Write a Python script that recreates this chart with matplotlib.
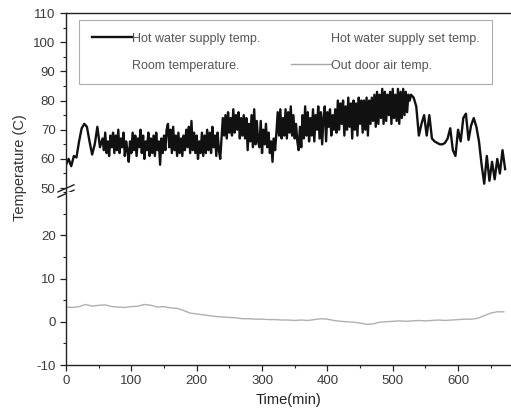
import numpy as np
import matplotlib
matplotlib.use("Agg")
import matplotlib.pyplot as plt
from matplotlib.ticker import MultipleLocator

plt.rcParams['font.family'] = ['Liberation Sans', 'DejaVu Sans']
plt.rcParams['axes.unicode_minus'] = False

# Hot water supply temp.
# 4-min steps up to 52, 2-min steps through the noisy part, 4-min steps after 528
hot_t = np.concatenate([np.arange(0, 56, 4), np.arange(56, 528, 2), np.arange(528, 676, 4)])
hot_v = [58, 60, 57.5, 61, 60.5, 66, 70.5, 72, 71, 66, 61.5, 65, 71, 64,
         67, 63, 69, 62, 66, 61, 68, 64, 69, 62,
         68, 63, 70, 62, 67, 64, 69, 61, 66, 63,
         59, 66, 62, 69, 63, 68, 61, 67, 64, 70,
         62, 68, 60, 66, 63, 69, 61, 67, 62, 68,
         61, 69, 63, 66, 58, 67, 62, 68, 63, 70,
         72, 64, 70, 62, 71, 63, 68, 61, 69, 62,
         67, 61, 68, 63, 70, 64, 71, 62, 73, 63,
         69, 62, 68, 60, 66, 62, 69, 61, 68, 62,
         70, 63, 69, 62, 71, 64, 68, 61, 69, 63,
         60, 67, 74, 68, 75, 67, 76, 69, 74, 68,
         77, 69, 75, 70, 76, 67, 74, 68, 75, 67,
         74, 63, 72, 66, 75, 64, 77, 65, 73, 66,
         64, 73, 62, 70, 65, 72, 64, 69, 62, 66,
         59, 67, 63, 69, 76, 68, 77, 67, 74, 68,
         77, 67, 76, 69, 78, 68, 75, 67, 72, 66,
         63, 71, 64, 75, 67, 78, 68, 76, 66, 74,
         68, 77, 66, 75, 70, 78, 67, 76, 65, 74,
         78, 66, 76, 71, 77, 68, 75, 70, 77, 69,
         80, 70, 79, 72, 80, 68, 78, 70, 81, 71,
         79, 67, 80, 70, 79, 68, 81, 72, 80, 69,
         80, 70, 81, 68, 80, 72, 81, 73, 82, 71,
         83, 72, 82, 74, 84, 72, 83, 73, 82, 75,
         83, 72, 84, 74, 82, 73, 84, 72, 83, 74,
         84, 75, 83, 76, 82, 80,
         82, 81, 78, 68, 72, 75, 68, 75, 67, 66, 65.5, 65, 65, 65.5, 67, 70.5,
         63, 61, 70, 66, 74, 75.5, 66.5, 71.5, 74, 71, 66, 58, 51.5, 61, 52.5,
         59, 53, 60, 55, 63, 56.5]

# Out door air temp., every 10 min
out_t = np.arange(0, 680, 10)
out_v = [3.4, 3.3, 3.5, 4.0, 3.6, 3.8, 3.9, 3.5, 3.4, 3.3, 3.5, 3.6, 4.0, 3.8,
         3.4, 3.5, 3.2, 3.1, 2.6, 2.0, 1.8, 1.6, 1.4, 1.2, 1.1, 1.0, 0.9, 0.7,
         0.7, 0.6, 0.6, 0.5, 0.5, 0.4, 0.4, 0.3, 0.4, 0.3, 0.5, 0.7, 0.6, 0.3,
         0.1, 0.0, -0.1, -0.3, -0.6, -0.5, -0.1, 0.0, 0.1, 0.2, 0.1, 0.2, 0.3,
         0.2, 0.3, 0.4, 0.3, 0.4, 0.5, 0.6, 0.6, 0.8, 1.4, 2.0, 2.3, 2.3]

labels = ["Hot water supply temp.", "Room temperature.",
          "Hot water supply set temp.", "Out door air temp."]

fig = plt.figure(figsize=(5.11, 4.18), dpi=100)
W, H = 511, 418
left, right = 66 / W, 511 / W
ax1 = fig.add_axes([left, 1 - 191 / H, right - left, (191 - 13) / H])
ax2 = fig.add_axes([left, 1 - 365 / H, right - left, (365 - 192) / H], sharex=ax1)

tc = '#3a3a3a'
h1, = ax1.plot(hot_t, hot_v, color='#111111', lw=1.7)
h_set, = ax1.plot([], [], color='none')
h_room, = ax1.plot([], [], color='none')
h_out, = ax1.plot([], [], color='#a8a8a8', lw=1.0)
ax2.plot(out_t, out_v, color='#b0b0b0', lw=1.0)

ax1.set_ylim(49, 110)
ax2.set_ylim(-10, 30)
ax1.set_xlim(0, 681)

for ax in (ax1, ax2):
    ax.spines['right'].set_visible(False)
    ax.yaxis.set_major_locator(MultipleLocator(10))
    ax.yaxis.set_minor_locator(MultipleLocator(5))
    ax.tick_params(axis='both', which='major', direction='out', length=4,
                   width=0.9, colors='#222222', labelcolor=tc, labelsize=9.5)
    ax.tick_params(axis='both', which='minor', direction='out', length=2.5,
                   width=0.8, colors='#222222')
    for s in ax.spines.values():
        s.set_linewidth(1.0)
        s.set_color('#222222')

ax1.spines['bottom'].set_visible(False)
ax1.tick_params(axis='x', which='both', bottom=False, labelbottom=False)
ax2.spines['top'].set_visible(False)
ax2.set_yticks([-10, 0, 10, 20])
ax2.xaxis.set_major_locator(MultipleLocator(100))
ax2.xaxis.set_minor_locator(MultipleLocator(50))

# break marks on the left spine
d = 0.018
kw = dict(color='#222222', lw=1.0, clip_on=False)
ax1.plot((-d, d), (-0.035, 0.005), transform=ax1.transAxes, **kw)
ax1.plot((-d, d), (-0.005, 0.035), transform=ax1.transAxes, **kw)

leg = ax1.legend([h1, h_room, h_set, h_out], labels, ncol=2, loc='upper left',
                 bbox_to_anchor=(0.03, 0.96), borderaxespad=0, fontsize=9,
                 handlelength=3.2, handletextpad=0.0, labelspacing=1.2,
                 borderpad=1.0, fancybox=False, frameon=True, columnspacing=2.5)
leg.get_frame().set_edgecolor('#999999')
leg.get_frame().set_linewidth(0.8)
for t in leg.get_texts():
    t.set_color('#555555')

ax2.set_xlabel('Time(min)', fontsize=10.5, color='#222222', labelpad=4)
fig.text(20 / W, 1 - 168 / H, 'Temperature (C)', rotation=90, ha='center',
         va='center', fontsize=10.5, color='#333333')

fig.savefig('out.png', dpi=100)
